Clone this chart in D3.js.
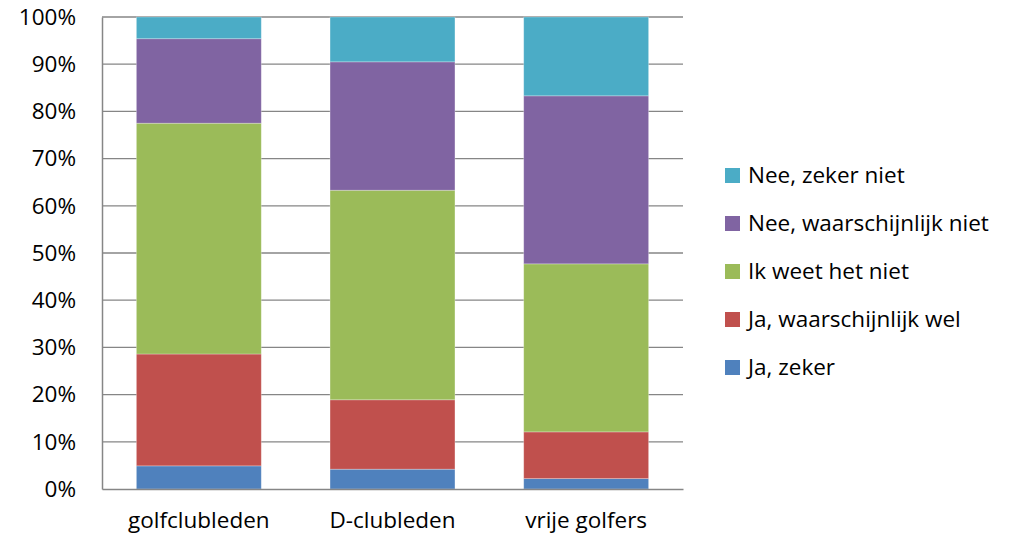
<!DOCTYPE html>
<html>
<head>
<meta charset="utf-8">
<script src="https://cdn.jsdelivr.net/npm/d3@7"></script>
<style>
  body { margin: 0; background: #fff; }
  text { font-family: "Open Sans", sans-serif; fill: #000; }
</style>
</head>
<body>
<div id="chart"></div>
<script>
var groups = ['golfclubleden', 'D-clubleden', 'vrije golfers'];
var answers = ['Ja, zeker', 'Ja, waarschijnlijk wel', 'Ik weet het niet', 'Nee, waarschijnlijk niet', 'Nee, zeker niet'];
var jaZeker = [4.9, 4.2, 2.2];
var jaWaarsch = [23.7, 14.7, 9.9];
var weetNiet = [48.9, 44.4, 35.6];
var neeWaarsch = [17.9, 27.2, 35.6];
var neeZeker = [4.6, 9.5, 16.7];
var colors = ['#4f81bd', '#c0504d', '#9bbb59', '#8064a2', '#4bacc6'];
var yTicks = [0, 10, 20, 30, 40, 50, 60, 70, 80, 90, 100];

var series = [jaZeker, jaWaarsch, weetNiet, neeWaarsch, neeZeker];
var rows = groups.map(function (g, i) {
  var r = { group: g };
  answers.forEach(function (a, k) { r[a] = series[k][i]; });
  return r;
});

var W = 1014, H = 539;
var mLeft = 102, mRight = 683, mTop = 17, mBottom = 489;
var fs = '22.5px';

var svg = d3.select('#chart').append('svg')
  .attr('width', W).attr('height', H);

var x = d3.scaleBand().domain(groups).range([mLeft, mRight]).paddingInner(0.355).paddingOuter(0.1775);
var y = d3.scaleLinear().domain([0, 100]).range([mBottom, mTop]);

// gridlines
svg.append('g').selectAll('line')
  .data(yTicks.slice(1))
  .enter().append('line')
  .attr('x1', mLeft).attr('x2', mRight)
  .attr('y1', function (d) { return y(d); })
  .attr('y2', function (d) { return y(d); })
  .attr('stroke', '#868686').attr('stroke-width', 1.3);

var stack = d3.stack().keys(answers)(rows);

svg.append('g').selectAll('g')
  .data(stack)
  .enter().append('g')
  .attr('fill', function (d, i) { return colors[i]; })
  .selectAll('rect')
  .data(function (d) { return d; })
  .enter().append('rect')
  .attr('x', function (d) { return x(d.data.group); })
  .attr('width', x.bandwidth())
  .attr('y', function (d) { return y(d[1]); })
  .attr('height', function (d) { return y(d[0]) - y(d[1]); })
  .attr('stroke', 'rgba(255,255,255,0.35)').attr('stroke-width', 0.8);

// assen
var yAxis = d3.axisLeft(y).tickValues(yTicks).tickSize(0).tickPadding(26)
  .tickFormat(function (d) { return d + '%'; });
var gy = svg.append('g').attr('transform', 'translate(' + mLeft + ',0)').call(yAxis);
gy.select('.domain').attr('stroke', '#868686').attr('stroke-width', 1.5);
gy.selectAll('text').style('font-size', fs).style('font-family', '"Open Sans", sans-serif');

var xAxis = d3.axisBottom(x).tickSize(0).tickPadding(23);
var gx = svg.append('g').attr('transform', 'translate(0,' + mBottom + ')').call(xAxis);
gx.select('.domain').attr('stroke', '#868686').attr('stroke-width', 1.5);
gx.selectAll('text').style('font-size', fs).style('font-family', '"Open Sans", sans-serif');

// legenda (omgekeerde volgorde)
var legY = d3.scalePoint().domain(answers.slice().reverse()).range([175, 367]);
var leg = svg.append('g').selectAll('g')
  .data(answers.slice().reverse())
  .enter().append('g')
  .attr('transform', function (d) { return 'translate(725,' + legY(d) + ')'; });
leg.append('rect')
  .attr('x', 0).attr('y', -7).attr('width', 15).attr('height', 15)
  .attr('fill', function (d) { return colors[answers.indexOf(d)]; });
leg.append('text')
  .attr('x', 23).attr('y', 0).attr('dy', '0.35em')
  .style('font-size', fs)
  .text(function (d) { return d; });
</script>
</body>
</html>
